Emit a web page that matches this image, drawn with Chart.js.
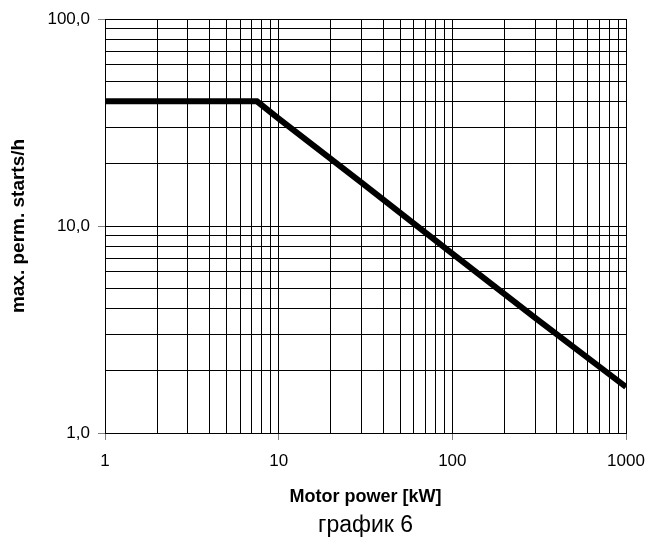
<!DOCTYPE html>
<html>
<head>
<meta charset="utf-8">
<script src="https://cdn.jsdelivr.net/npm/chart.js@4/dist/chart.umd.min.js"></script>
<style>
  html, body { margin: 0; padding: 0; background: #fff; }
  #chart { display: block; }
</style>
</head>
<body>
<canvas id="chart" width="648" height="539"></canvas>
<script>
  // motor power [kW] vs. max permissible starts per hour
  const powerKw = [1, 7.5, 10, 30, 100, 300, 1000];
  const startsPerHour = [40, 40, 33, 16.2, 7.35, 3.6, 1.67];

  const xGrid = [1, 2, 3, 4, 5, 6, 7, 8, 9, 10, 20, 30, 40, 50, 60, 70, 80, 90,
                 100, 200, 300, 400, 500, 600, 700, 800, 900, 1000];
  const yGrid = [1, 2, 3, 4, 5, 6, 7, 8, 9, 10, 20, 30, 40, 50, 60, 70, 80, 90, 100];
  const xLabels = { 1: "1", 10: "10", 100: "100", 1000: "1000" };
  const yLabels = { 1: "1,0", 10: "10,0", 100: "100,0" };

  const isMajor = v => Math.abs(Math.log10(v) - Math.round(Math.log10(v))) < 1e-9;

  function axis(grid, labels, extra) {
    return Object.assign({
      type: "logarithmic",
      min: grid[0],
      max: grid[grid.length - 1],
      border: { color: "#000", width: 1 },
      grid: {
        color: "#000",
        lineWidth: 1,
        tickLength: 7,
        tickColor: ctx => (ctx.tick && isMajor(ctx.tick.value)) ? "#808080" : "rgba(0,0,0,0)"
      },
      ticks: {
        autoSkip: false,
        maxRotation: 0,
        color: "#000",
        font: { family: "Liberation Sans, Arial", size: 17 },
        callback: v => labels[v] || ""
      },
      afterBuildTicks: s => { s.ticks = grid.map(v => ({ value: v })); }
    }, extra);
  }

  const xAxis = axis(xGrid, xLabels, {
    position: "bottom",
    title: {
      display: true,
      text: "Motor power [kW]",
      color: "#000",
      font: { family: "Liberation Sans, Arial", size: 18, weight: "bold" },
      padding: { top: 0, bottom: 0 }
    },
    afterFit: s => { s.height = 74.4; s.paddingLeft = 0; s.paddingRight = 0; }
  });
  xAxis.ticks.padding = 11;

  const yAxis = axis(yGrid, yLabels, {
    position: "left",
    title: {
      display: true,
      text: "max. perm. starts/h",
      color: "#000",
      font: { family: "Liberation Sans, Arial", size: 19, weight: "bold" },
      padding: { top: 7, bottom: 0 }
    },
    afterFit: s => { s.width = 105; s.paddingTop = 0; s.paddingBottom = 0; }
  });
  yAxis.ticks.padding = 8;

  new Chart(document.getElementById("chart"), {
    type: "line",
    data: {
      datasets: [{
        data: powerKw.map((p, i) => ({ x: p, y: startsPerHour[i] })),
        borderColor: "#000",
        borderWidth: 6,
        borderJoinStyle: "miter",
        pointRadius: 0,
        tension: 0,
        fill: false,
        clip: 0
      }]
    },
    options: {
      responsive: false,
      animation: false,
      layout: { padding: { top: 19, right: 22, bottom: 0, left: 0 } },
      plugins: {
        legend: { display: false },
        tooltip: { enabled: false },
        title: {
          display: true,
          position: "bottom",
          fullSize: false,
          text: "график 6",
          color: "#000",
          font: { family: "Liberation Sans, Arial", size: 23, weight: "normal" },
          padding: { top: 4, bottom: 0 }
        }
      },
      scales: { x: xAxis, y: yAxis }
    }
  });
</script>
</body>
</html>
